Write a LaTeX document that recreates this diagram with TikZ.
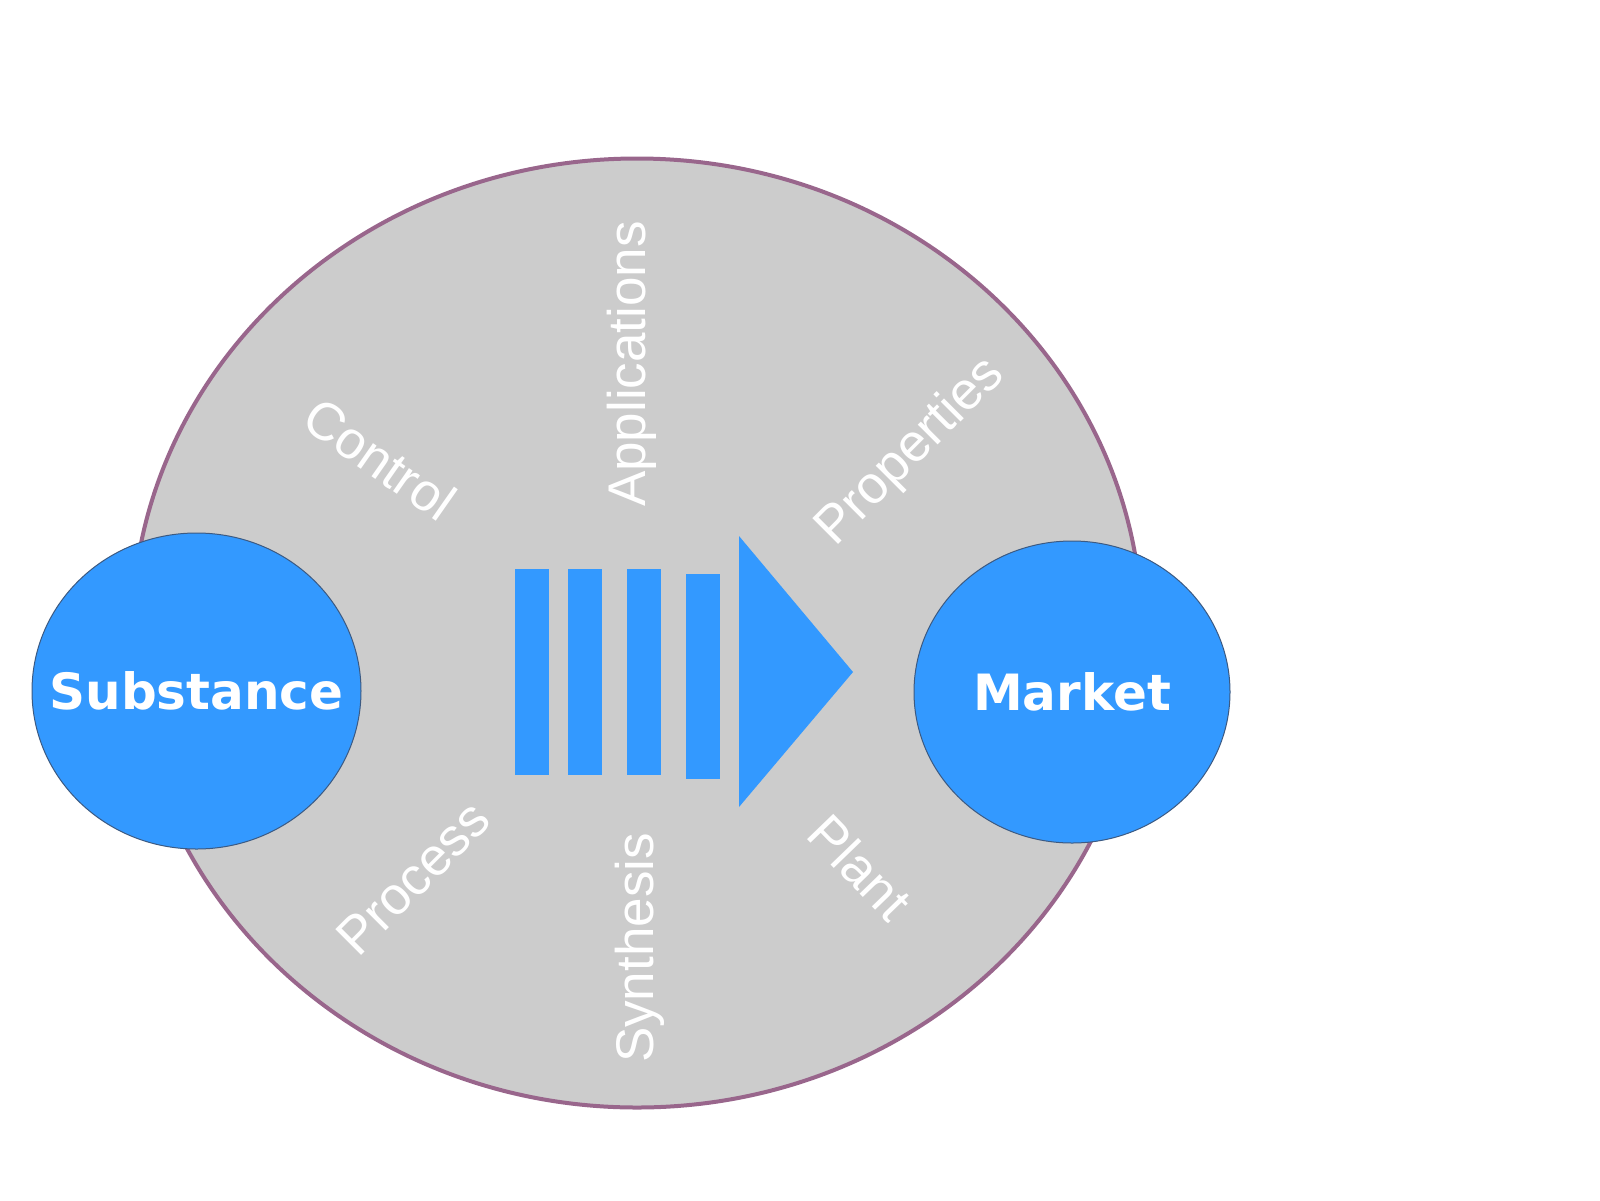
\documentclass[tikz,border=0pt]{standalone}
\usepackage{fontspec}
\setmainfont{Liberation Sans}
\newfontfamily\dejavu{DejaVu Sans}
\usetikzlibrary{shapes.geometric}
\definecolor{bgray}{RGB}{204,204,204}
\definecolor{rim}{RGB}{153,102,140}
\definecolor{bblue}{RGB}{51,153,255}
\definecolor{bedge}{RGB}{60,90,130}
\tikzset{
  lbl/.style={text=white, inner sep=0pt, font=\fontsize{53}{60}\selectfont},
  ball/.style={ellipse, fill=bblue, draw=bedge, line width=1pt, inner sep=0pt},
  balltext/.style={text=white, inner sep=0pt, font=\dejavu\bfseries\fontsize{50}{60}\selectfont},
  barfill/.style={fill=bblue}
}
\begin{document}
\begin{tikzpicture}[x=1pt,y=-1pt]
\useasboundingbox (0,0) rectangle (1600,1200);
\fill[white] (0,0) rectangle (1600,1200);
% big ellipse
\node[ellipse, fill=bgray, draw=rim, line width=4pt, minimum width=1010pt, minimum height=949pt, inner sep=0pt] (big) at (637,633) {};
% labels
\node[lbl, rotate=90] (appl) at (632,364) {Applications};
\node[lbl, rotate=90] (synth) at (640,948) {Synthesis};
\node[lbl, rotate=-35] (ctrl) at (380,459) {Control};
\node[lbl, rotate=45] (prop) at (911,452) {Properties};
\node[lbl, rotate=45] (proc) at (413,878) {Process};
\node[lbl, rotate=-46] (plant) at (860,867) {Plant};
% bars and arrow head
\fill[barfill] (515,569) rectangle (549,775);
\fill[barfill] (568,569) rectangle (602,775);
\fill[barfill] (627,569) rectangle (661,775);
\fill[barfill] (686,574) rectangle (720,779);
\fill[barfill] (739,536) -- (853,672) -- (739,807) -- cycle;
% circles
\node[ball, minimum width=329pt, minimum height=316pt] (sub) at (196.5,691) {};
\node[balltext] (subt) at (sub.center) {Substance};
\node[ball, minimum width=316pt, minimum height=302pt] (mkt) at (1072,692) {};
\node[balltext] (mktt) at (mkt.center) {Market};
\end{tikzpicture}
\end{document}
